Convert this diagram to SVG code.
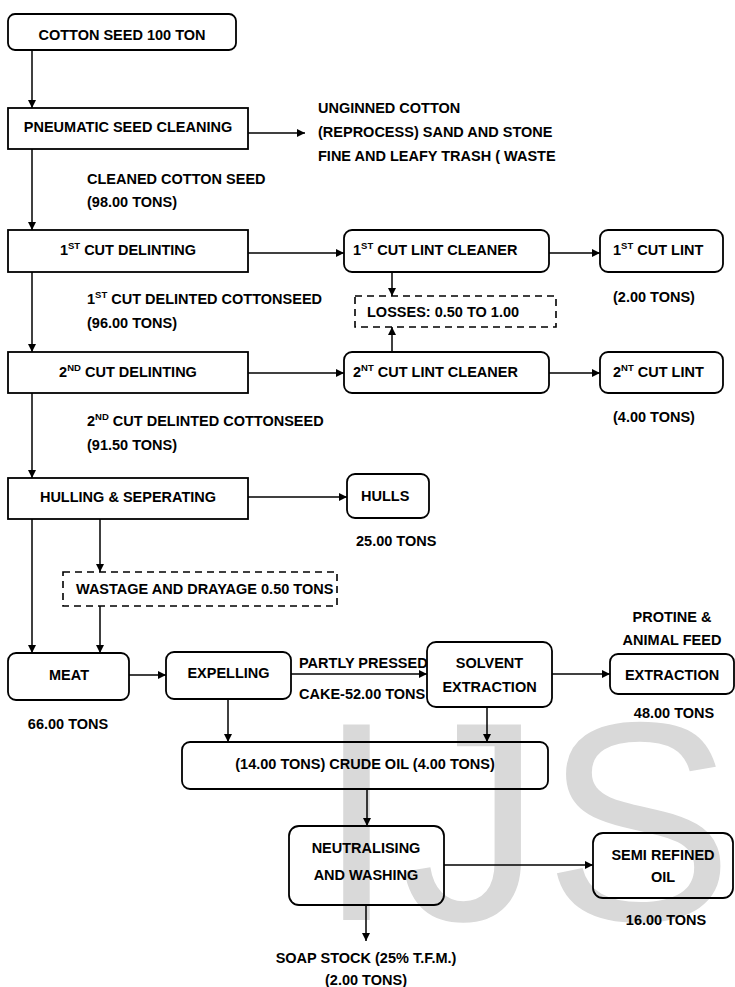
<svg xmlns="http://www.w3.org/2000/svg" width="735" height="987" viewBox="0 0 735 987">
<style>
text{font-family:"Liberation Sans",Arial,sans-serif;font-weight:bold;font-size:14.5px;fill:#000}
.m{text-anchor:middle}
.sup{font-size:9.5px}
.box{fill:none;stroke:#000;stroke-width:1.8}
.dash{fill:none;stroke:#000;stroke-width:1.6;stroke-dasharray:7 5}
.wm{font-family:"Liberation Sans",Arial,sans-serif;font-weight:normal;font-size:284px;fill:#d9d9d9}
#connectors line{stroke:#000;stroke-width:1.5;fill:none}
</style>
<defs>
<marker id="ah" viewBox="0 0 10 10" refX="10" refY="5" markerWidth="8" markerHeight="8" markerUnits="userSpaceOnUse" orient="auto">
<path d="M0,0 L10,5 L0,10 Z" fill="#000"/>
</marker>
</defs>
<rect width="735" height="987" fill="#fff"/>
<g id="watermark"><text class="wm" x="317" y="920">I</text><text class="wm" x="400" y="920">J</text><text class="wm" x="544" y="920">S</text></g>

<g id="connectors">
<line x1="32" y1="50" x2="32" y2="108" marker-end="url(#ah)"/>
<line x1="248" y1="133" x2="305" y2="133" marker-end="url(#ah)"/>
<line x1="32" y1="149" x2="32" y2="230" marker-end="url(#ah)"/>
<line x1="248" y1="253" x2="344" y2="253" marker-end="url(#ah)"/>
<line x1="549" y1="253" x2="600" y2="253" marker-end="url(#ah)"/>
<line x1="392" y1="272" x2="392" y2="296" marker-end="url(#ah)"/>
<line x1="392" y1="352" x2="392" y2="327" marker-end="url(#ah)"/>
<line x1="32" y1="272" x2="32" y2="352" marker-end="url(#ah)"/>
<line x1="248" y1="373" x2="344" y2="373" marker-end="url(#ah)"/>
<line x1="549" y1="373" x2="600" y2="373" marker-end="url(#ah)"/>
<line x1="32" y1="393" x2="32" y2="478" marker-end="url(#ah)"/>
<line x1="248" y1="497" x2="347" y2="497" marker-end="url(#ah)"/>
<line x1="100" y1="519" x2="100" y2="572" marker-end="url(#ah)"/>
<line x1="32" y1="519" x2="32" y2="653" marker-end="url(#ah)"/>
<line x1="100" y1="606" x2="100" y2="653" marker-end="url(#ah)"/>
<line x1="129" y1="675" x2="166" y2="675" marker-end="url(#ah)"/>
<line x1="291" y1="674" x2="427" y2="674" marker-end="url(#ah)"/>
<line x1="552" y1="674" x2="610" y2="674" marker-end="url(#ah)"/>
<line x1="228" y1="699" x2="228" y2="742" marker-end="url(#ah)"/>
<line x1="487" y1="707" x2="487" y2="742" marker-end="url(#ah)"/>
<line x1="367" y1="789" x2="367" y2="826" marker-end="url(#ah)"/>
<line x1="444" y1="865" x2="593" y2="865" marker-end="url(#ah)"/>
<line x1="366" y1="905" x2="366" y2="941" marker-end="url(#ah)"/>
</g>

<g id="cotton-seed"><rect class="box" x="8" y="14" width="228" height="36" rx="7"/><text class="m" x="122" y="40">COTTON SEED 100 TON</text></g>
<g id="pneumatic"><rect class="box" x="8" y="108" width="240" height="41"/><text class="m" x="128" y="132">PNEUMATIC SEED CLEANING</text></g>
<g id="waste-label"><text x="318" y="113">UNGINNED COTTON</text><text x="318" y="137">(REPROCESS) SAND AND STONE</text><text x="318" y="161">FINE AND LEAFY TRASH ( WASTE</text></g>
<g id="cleaned-label"><text x="87" y="184">CLEANED COTTON SEED</text><text x="87" y="207">(98.00 TONS)</text></g>

<g id="delint1"><rect class="box" x="8" y="230" width="240" height="42"/><text class="m" x="128" y="255">1<tspan class="sup" dy="-6">ST</tspan><tspan dy="6"> CUT DELINTING</tspan></text></g>
<g id="cleaner1"><rect class="box" x="344" y="230" width="205" height="42" rx="8"/><text x="353" y="255">1<tspan class="sup" dy="-6">ST</tspan><tspan dy="6"> CUT LINT CLEANER</tspan></text></g>
<g id="lint1"><rect class="box" x="600" y="230" width="123" height="42" rx="8"/><text x="613" y="255">1<tspan class="sup" dy="-6">ST</tspan><tspan dy="6"> CUT LINT</tspan></text></g>
<g id="lint1-label"><text x="613" y="302">(2.00 TONS)</text></g>
<g id="delinted1-label"><text x="87" y="304">1<tspan class="sup" dy="-6">ST</tspan><tspan dy="6"> CUT DELINTED COTTONSEED</tspan></text><text x="87" y="328">(96.00 TONS)</text></g>
<g id="losses"><rect class="dash" x="355" y="296" width="201" height="31"/><text x="367" y="317">LOSSES: 0.50 TO 1.00</text></g>

<g id="delint2"><rect class="box" x="8" y="352" width="240" height="41"/><text class="m" x="128" y="377">2<tspan class="sup" dy="-6">ND</tspan><tspan dy="6"> CUT DELINTING</tspan></text></g>
<g id="cleaner2"><rect class="box" x="344" y="352" width="205" height="41" rx="8"/><text x="353" y="377">2<tspan class="sup" dy="-6">NT</tspan><tspan dy="6"> CUT LINT CLEANER</tspan></text></g>
<g id="lint2"><rect class="box" x="600" y="352" width="123" height="41" rx="8"/><text x="613" y="377">2<tspan class="sup" dy="-6">NT</tspan><tspan dy="6"> CUT LINT</tspan></text></g>
<g id="lint2-label"><text x="613" y="422">(4.00 TONS)</text></g>
<g id="delinted2-label"><text x="87" y="426">2<tspan class="sup" dy="-6">ND</tspan><tspan dy="6"> CUT DELINTED COTTONSEED</tspan></text><text x="87" y="450">(91.50 TONS)</text></g>

<g id="hulling"><rect class="box" x="8" y="478" width="240" height="41"/><text class="m" x="128" y="502">HULLING &amp; SEPERATING</text></g>
<g id="hulls"><rect class="box" x="347" y="474" width="82" height="44" rx="8"/><text x="361" y="501">HULLS</text></g>
<g id="hulls-label"><text x="356" y="546">25.00 TONS</text></g>
<g id="wastage"><rect class="dash" x="63" y="572" width="274" height="34"/><text x="76" y="594">WASTAGE AND DRAYAGE 0.50 TONS</text></g>

<g id="meat"><rect class="box" x="8" y="653" width="121" height="47" rx="8"/><text class="m" x="69" y="680">MEAT</text></g>
<g id="meat-label"><text class="m" x="68" y="729">66.00 TONS</text></g>
<g id="expelling"><rect class="box" x="166" y="652" width="125" height="47" rx="8"/><text class="m" x="228.5" y="678">EXPELLING</text></g>
<g id="cake-label"><text x="299" y="668">PARTLY PRESSED</text><text x="299" y="699">CAKE-52.00 TONS</text></g>
<g id="solvent"><rect class="box" x="427" y="642" width="125" height="65" rx="9"/><text class="m" x="489.5" y="668">SOLVENT</text><text class="m" x="489.5" y="692">EXTRACTION</text></g>
<g id="extraction"><rect class="box" x="610" y="654" width="124" height="40" rx="8"/><text class="m" x="672" y="680">EXTRACTION</text></g>
<g id="extraction-label"><text class="m" x="672" y="622">PROTINE &amp;</text><text class="m" x="672" y="645">ANIMAL FEED</text><text class="m" x="674" y="718">48.00 TONS</text></g>

<g id="crude"><rect class="box" x="182" y="742" width="366" height="47" rx="8"/><text class="m" x="365" y="769">(14.00 TONS) CRUDE OIL (4.00 TONS)</text></g>
<g id="neutralising"><rect class="box" x="289" y="826" width="155" height="79" rx="10"/><text class="m" x="366" y="853">NEUTRALISING</text><text class="m" x="366" y="880">AND WASHING</text></g>
<g id="semi-refined"><rect class="box" x="593" y="833" width="140" height="65" rx="10"/><text class="m" x="663" y="860">SEMI REFINED</text><text class="m" x="663" y="882">OIL</text></g>
<g id="semi-label"><text class="m" x="666" y="925">16.00 TONS</text></g>
<g id="soap-label"><text class="m" x="366" y="963">SOAP STOCK (25% T.F.M.)</text><text class="m" x="366" y="985">(2.00 TONS)</text></g>
</svg>
